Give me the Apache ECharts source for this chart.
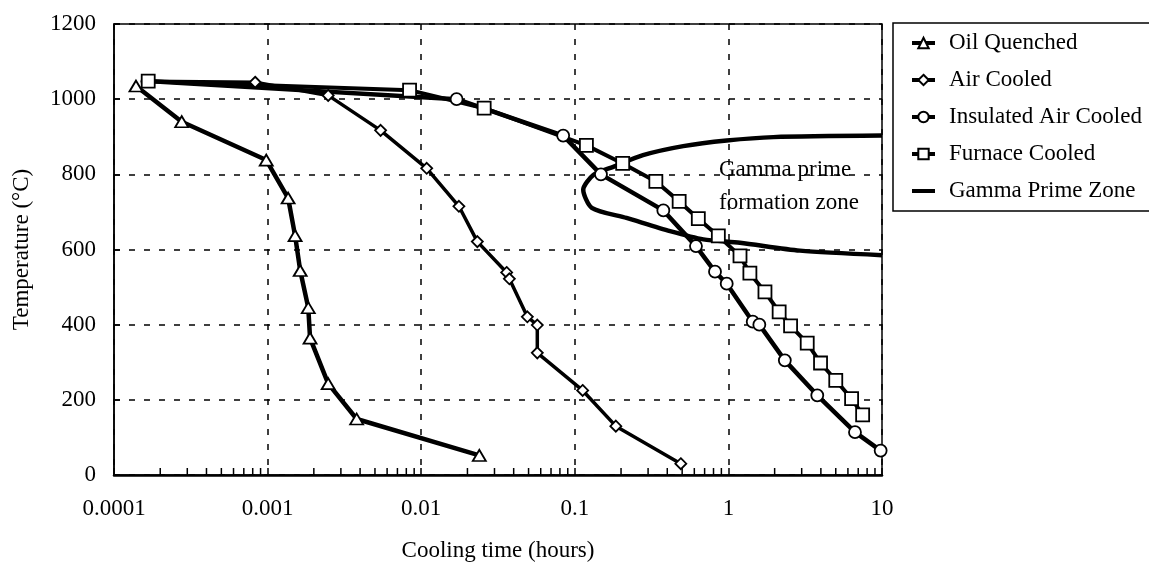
<!DOCTYPE html>
<html>
<head>
<meta charset="utf-8">
<script src="https://cdn.jsdelivr.net/npm/echarts@6/dist/echarts.min.js"></script>
<style>
html,body{margin:0;padding:0;background:#fff;}
#chart{width:1149px;height:567px;}
</style>
</head>
<body>
<div id="chart"></div>
<script>
// ---- Data ----
const xTickValues = [0.0001, 0.001, 0.01, 0.1, 1, 10];
const xTickLabels = ['0.0001', '0.001', '0.01', '0.1', '1', '10'];
const yTickLabels = ['0', '200', '400', '600', '800', '1000', '1200'];
const minorMultipliers = [2, 3, 4, 5, 6, 7, 8, 9];

const oilTime = [0.000139, 0.000276, 0.00098, 0.00136, 0.00151, 0.00163, 0.00184, 0.00189, 0.00248, 0.0038, 0.0239];
const oilTemp = [1035, 940, 838, 737, 637, 544, 445, 364, 243, 149, 52];

const airTime = [0.000165, 0.00083, 0.00248, 0.00544, 0.01086, 0.0176, 0.0232, 0.036, 0.0375, 0.0491, 0.057, 0.057, 0.1125, 0.185, 0.49];
const airTemp = [1048, 1045, 1010, 917, 816, 715, 621, 539, 522, 421, 399, 325, 225, 130, 30];

const insTime = [0.000165, 0.017, 0.084, 0.148, 0.377, 0.615, 0.818, 0.975, 1.44, 1.59, 2.33, 3.79, 6.67, 9.8];
const insTemp = [1048, 1000, 903, 800, 704, 609, 541, 509, 408, 400, 305, 212, 114, 65];

const furTime = [0.000167, 0.0084, 0.0257, 0.119, 0.205, 0.337, 0.478, 0.637, 0.86, 1.19, 1.38, 1.73, 2.14, 2.54, 3.26, 3.98, 5.0, 6.34, 7.48];
const furTemp = [1048, 1024, 976, 877, 829, 781, 728, 682, 636, 583, 537, 487, 434, 397, 351, 298, 252, 203, 160];

const gamTime = [10, 1.96, 0.975, 0.508, 0.278, 0.178, 0.132, 0.1135, 0.129, 0.217, 0.417, 0.687, 1.19, 2.92, 10];
const gamTemp = [903, 899, 890, 875, 851, 820, 798, 759, 711, 684, 649, 627, 618, 597, 585];

const seriesNames = ['Oil Quenched', 'Air Cooled', 'Insulated Air Cooled', 'Furnace Cooled', 'Gamma Prime Zone'];
const zoneLabel = ['Gamma prime', 'formation zone'];

// ---- helpers ----
const zip = (a, b) => a.map((v, i) => [v, b[i]]);
const FONT = 'Liberation Serif';
const minorTicks = [];
xTickValues.slice(0, -1).forEach(d => minorMultipliers.forEach(m => minorTicks.push([d * m, 0])));

const markerSeries = (name, t, T, symbol, size, lw) => ({
  name: name,
  type: 'line',
  data: zip(t, T),
  symbol: symbol,
  symbolSize: size,
  showSymbol: true,
  lineStyle: { color: '#000', width: lw },
  itemStyle: { color: '#fff', borderColor: '#000', borderWidth: 1.8 },
  emphasis: { disabled: true },
  z: 3
});

const legendData = seriesNames.map((n, i) => i === 4
  ? { name: n, itemStyle: { color: 'rgba(0,0,0,0)', borderColor: 'rgba(0,0,0,0)', borderWidth: 0 } }
  : { name: n });

const chart = echarts.init(document.getElementById('chart'), null, { renderer: 'canvas' });
chart.setOption({
  animation: false,
  backgroundColor: '#fff',
  textStyle: { fontFamily: FONT, color: '#000' },
  grid: { left: 114, right: 267, top: 24, bottom: 87, show: true, borderColor: '#000', borderWidth: 1.5 },
  legend: {
    data: legendData,
    orient: 'vertical',
    left: 893,
    top: 23,
    padding: [8, 14, 8, 17],
    itemWidth: 23,
    itemHeight: 13,
    itemGap: 13,
    borderColor: '#000',
    borderWidth: 1.5,
    selectedMode: false,
    lineStyle: { width: 4, color: '#000' },
    textStyle: { fontFamily: FONT, fontSize: 23, color: '#000', lineHeight: 24, padding: [0, 0, 0, 9] }
  },
  xAxis: {
    type: 'log',
    logBase: 10,
    min: xTickValues[0],
    max: xTickValues[xTickValues.length - 1],
    splitNumber: 5,
    axisLine: { lineStyle: { color: '#000', width: 2.5 } },
    axisTick: { inside: true, length: 7, lineStyle: { color: '#000', width: 1.5 } },
    splitLine: { show: true, lineStyle: { color: '#000', width: 1.5, type: [6, 9] } },
    axisLabel: {
      color: '#000', fontFamily: FONT, fontSize: 23, margin: 22,
      formatter: function (v) {
        let best = 0, bd = Infinity;
        xTickValues.forEach((t, i) => { const d = Math.abs(Math.log10(v) - Math.log10(t)); if (d < bd) { bd = d; best = i; } });
        return xTickLabels[best];
      }
    },
    name: 'Cooling time (hours)',
    nameLocation: 'middle',
    nameGap: 64,
    nameTextStyle: { color: '#000', fontFamily: FONT, fontSize: 23 }
  },
  yAxis: {
    type: 'value',
    min: 0,
    max: 1200,
    interval: 200,
    axisLine: { show: true, lineStyle: { color: '#000', width: 1.5 } },
    axisTick: { show: true, inside: true, length: 6, lineStyle: { color: '#000', width: 1.5 } },
    splitLine: { show: true, lineStyle: { color: '#000', width: 1.5, type: [6, 9] } },
    axisLabel: {
      color: '#000', fontFamily: FONT, fontSize: 23, margin: 18,
      formatter: function (v, i) { return yTickLabels[i]; }
    },
    name: 'Temperature (°C)',
    nameLocation: 'middle',
    nameRotate: 90,
    nameGap: 81,
    nameTextStyle: { color: '#000', fontFamily: FONT, fontSize: 23 }
  },
  graphic: [
    { type: 'text', left: 719, top: 158, style: { text: zoneLabel[0], font: '23px "Liberation Serif"', fill: '#000' }, z: 10 },
    { type: 'text', left: 719, top: 191, style: { text: zoneLabel[1], font: '23px "Liberation Serif"', fill: '#000' }, z: 10 }
  ],
  series: [
    {
      name: 'minorTicks',
      type: 'custom',
      silent: true,
      clip: false,
      data: minorTicks,
      renderItem: function (params, api) {
        const p = api.coord([api.value(0), api.value(1)]);
        return { type: 'line', shape: { x1: p[0], y1: p[1], x2: p[0], y2: p[1] - 7 }, style: { stroke: '#000', lineWidth: 1.5 } };
      },
      z: 2
    },
    {
      name: seriesNames[4],
      type: 'line',
      data: zip(gamTime, gamTemp),
      symbol: 'none',
      smooth: 0.25,
      lineStyle: { color: '#000', width: 4.5 },
      itemStyle: { color: '#000' },
      emphasis: { disabled: true },
      z: 2
    },
    markerSeries(seriesNames[0], oilTime, oilTemp, 'triangle', [13, 11], 4.5),
    markerSeries(seriesNames[1], airTime, airTemp, 'diamond', [11, 11], 3.5),
    markerSeries(seriesNames[2], insTime, insTemp, 'circle', 12, 4.5),
    markerSeries(seriesNames[3], furTime, furTemp, 'rect', 13, 4)
  ]
});
</script>
</body>
</html>
